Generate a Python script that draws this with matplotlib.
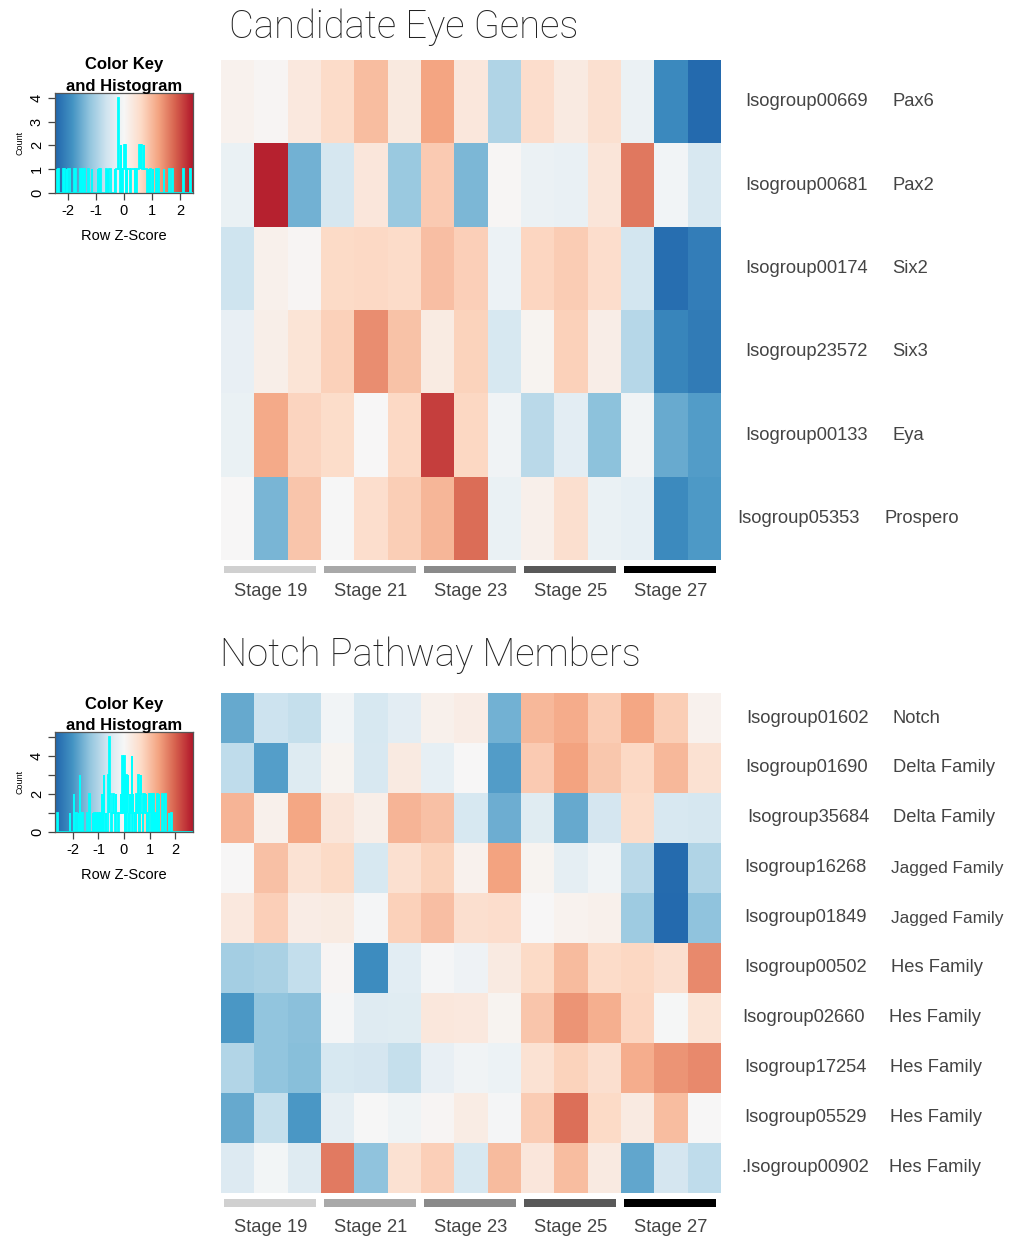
import numpy as np
import matplotlib
matplotlib.use("Agg")
import matplotlib.pyplot as plt
from matplotlib.colors import LinearSegmentedColormap, Normalize

# ---------------- data ----------------
stages = ["Stage 19", "Stage 21", "Stage 23", "Stage 25", "Stage 27"]
stage_colors = ["#d0d0d0", "#a9a9a9", "#8a8a8a", "#595959", "#000000"]

eye_ids = ["Isogroup00669", "Isogroup00681", "Isogroup00174",
           "Isogroup23572", "Isogroup00133", "Isogroup05353"]
eye_genes = ["Pax6", "Pax2", "Six2", "Six3", "Eya", "Prospero"]
eye_z = [
    [0.12, 0.05, 0.31, 0.58, 0.95, 0.29, 1.22, 0.33, -0.93, 0.55, 0.27, 0.48, -0.18, -1.97, -2.38],
    [-0.21, 2.36, -1.46, -0.52, 0.36, -1.14, 0.79, -1.38, 0.02, -0.19, -0.22, 0.37, 1.62, -0.09, -0.48],
    [-0.62, 0.14, 0.04, 0.61, 0.63, 0.59, 0.92, 0.74, -0.16, 0.66, 0.77, 0.54, -0.57, -2.33, -2.11],
    [-0.24, 0.19, 0.41, 0.71, 1.42, 0.89, 0.26, 0.69, -0.51, 0.08, 0.72, 0.21, -0.88, -2.02, -2.16],
    [-0.20, 1.16, 0.68, 0.57, 0.00, 0.62, 2.12, 0.64, -0.11, -0.84, -0.31, -1.26, -0.10, -1.55, -1.71],
    [0.01, -1.41, 0.86, -0.01, 0.53, 0.76, 1.03, 1.71, -0.20, 0.16, 0.51, -0.21, -0.26, -1.94, -1.76],
]

notch_ids = ["Isogroup01602", "Isogroup01690", "Isogroup35684", "Isogroup16268",
             "Isogroup01849", "Isogroup00502", "Isogroup02660", "Isogroup17254",
             "Isogroup05529", ".Isogroup00902"]
notch_genes = ["Notch", "Delta Family", "Delta Family", "Jagged Family",
               "Jagged Family", "Hes Family", "Hes Family", "Hes Family",
               "Hes Family", "Hes Family"]
notch_z = [
    [-1.72, -0.71, -0.79, -0.09, -0.56, -0.34, 0.15, 0.24, -1.61, 1.10, 1.26, 0.86, 1.31, 0.84, 0.14],
    [-0.86, -1.87, -0.44, 0.10, -0.54, 0.31, -0.29, 0.00, -1.88, 0.87, 1.36, 0.92, 0.69, 1.11, 0.51],
    [1.16, 0.16, 1.31, 0.41, 0.20, 1.14, 1.01, -0.56, -1.66, -0.39, -1.71, -0.61, 0.64, -0.54, -0.57],
    [0.02, 1.01, 0.49, 0.66, -0.56, 0.54, 0.76, 0.14, 1.36, 0.09, -0.31, -0.11, -0.91, -2.60, -1.02],
    [0.35, 0.81, 0.24, 0.29, -0.05, 0.79, 1.02, 0.56, 0.61, 0.00, 0.11, 0.16, -1.21, -2.62, -1.36],
    [-1.16, -1.09, -0.81, 0.05, -2.12, -0.36, -0.06, -0.16, 0.30, 0.66, 1.06, 0.64, 0.71, 0.56, 1.61],
    [-1.96, -1.33, -1.41, -0.06, -0.41, -0.39, 0.36, 0.34, 0.10, 0.94, 1.51, 1.21, 0.72, -0.04, 0.46],
    [-1.01, -1.34, -1.42, -0.55, -0.61, -0.79, -0.26, -0.12, -0.18, 0.49, 0.76, 0.55, 1.24, 1.50, 1.62],
    [-1.71, -0.80, -1.96, -0.30, -0.02, -0.13, 0.05, 0.26, -0.05, 0.86, 1.86, 0.66, 0.31, 1.04, 0.00],
    [-0.46, -0.08, -0.41, 1.76, -1.36, 0.51, 0.81, -0.55, 1.06, 0.40, 1.04, 0.30, -1.76, -0.60, -0.86],
]

# ---------------- style ----------------
W, H = 1010, 1238
fig = plt.figure(figsize=(W / 100, H / 100), dpi=100)
plt.rcParams['font.family'] = ['Liberation Sans', 'DejaVu Sans']

rdbu9 = ["#2166ac", "#4393c3", "#92c5de", "#d1e5f0", "#f7f7f7",
         "#fddbc7", "#f4a582", "#d6604d", "#b2182b"]
cmap = LinearSegmentedColormap.from_list("rdbu9r", rdbu9, N=256)
TXT = "#444444"
LAB_FS = 13.2


def ax_px(x0, y0, x1, y1):
    return fig.add_axes([x0 / W, 1 - y1 / H, (x1 - x0) / W, (y1 - y0) / H])


def ftext(x, y, s, **kw):
    fig.text(x / W, 1 - y / H, s, **kw)


def heatmap(box, z, vmax, ids, genes, id_x, gene_x, gene_fs, strip_box, label_y, bar_y0, bar_y1):
    z = np.array(z)
    nr, nc = z.shape
    x0, y0, x1, y1 = box
    ax = ax_px(*box)
    ax.imshow(z, cmap=cmap, norm=Normalize(-vmax, vmax), aspect='auto',
              extent=(0, nc, nr, 0), interpolation='nearest')
    ax.set_xlim(0, nc)
    ax.set_ylim(nr, 0)
    ax.axis('off')
    rh = (y1 - y0) / nr
    for i in range(nr):
        yc = y0 + rh * (i + 0.5)
        ftext(id_x[i], yc, ids[i], fontsize=LAB_FS, color=TXT, va='center', ha='left')
        ftext(gene_x[i], yc, genes[i], fontsize=gene_fs[i], color=TXT, va='center', ha='left')
    # stage strip
    sx = ax_px(*strip_box)
    sx.set_xlim(0, nc)
    sx.set_ylim(strip_box[3] - strip_box[1], 0)
    sx.axis('off')
    for k, (st, c) in enumerate(zip(stages, stage_colors)):
        sx.fill_between([3 * k + 0.1, 3 * k + 2.86], bar_y0, bar_y1, color=c, lw=0)
        sx.text(3 * k + 1.48, label_y, st, ha='center', va='center',
                fontsize=LAB_FS, color=TXT)


def colorkey(box, z, vmax, title_y):
    z = np.array(z)
    ax = ax_px(*box)
    edges = np.linspace(-vmax, vmax, 257)
    counts, _ = np.histogram(z.ravel(), bins=edges)
    ymax = counts.max() * 1.05
    grad = np.linspace(-vmax, vmax, 256)[None, :]
    ax.imshow(grad, cmap=cmap, norm=Normalize(-vmax, vmax), aspect='auto',
              extent=(-vmax, vmax, 0, ymax), origin='lower')
    ax.stairs(counts, edges, color='cyan', lw=1.3)
    ax.set_xlim(-vmax, vmax)
    ax.set_ylim(0, ymax)
    ax.set_xticks([-2, -1, 0, 1, 2])
    ax.set_xticklabels(["-2", "-1", "0", "1", "2"], fontsize=10.5)
    yt = np.arange(0, int(counts.max()) + 1)
    ax.set_yticks(yt)
    step = 1 if counts.max() <= 4 else 2
    ax.set_yticklabels([str(v) if v % step == 0 else "" for v in yt],
                       fontsize=10.5, rotation=90, va='center')
    ax.tick_params(length=5, width=0.9, color="#444", pad=3)
    for s in ax.spines.values():
        s.set_color("#555")
        s.set_linewidth(0.9)
    ax.set_xlabel("Row Z-Score", fontsize=10.5, labelpad=8)
    ax.set_ylabel("Count", fontsize=6.5, labelpad=4)
    cx = (box[0] + box[2]) / 2
    ftext(cx, title_y, "Color Key", fontsize=12, fontweight='bold', ha='center', va='center')
    ftext(cx, title_y + 21, "and Histogram", fontsize=12, fontweight='bold', ha='center', va='center')


TITLE_KW = dict(fontsize=27.5, color="#222", ha='left', va='center',
                family=['Roboto', 'Liberation Sans', 'DejaVu Sans'], fontweight='light')

# ---------------- top panel ----------------
ftext(229, 27, "Candidate Eye Genes", **TITLE_KW)
heatmap((221, 60, 721, 560), eye_z, 2.45, eye_ids, eye_genes,
        [745, 745, 745, 745, 745, 737], [892, 892, 892, 892, 892, 884],
        [LAB_FS] * 6,
        (221, 560, 721, 605), 31, 6, 13)
colorkey((55, 93, 193, 193), eye_z, 2.45, 65)

# ---------------- bottom panel ----------------
ftext(220, 655, "Notch Pathway Members", **TITLE_KW)
heatmap((221, 693, 721, 1193), notch_z, 2.7, notch_ids, notch_genes,
        [746, 745, 747, 744, 744, 744, 742, 744, 744, 741],
        [893, 893, 893, 891, 891, 891, 889, 890, 890, 889],
        [LAB_FS, LAB_FS, LAB_FS, 12.4, 12.4, LAB_FS, LAB_FS, LAB_FS, LAB_FS, LAB_FS],
        (221, 1193, 721, 1238), 34, 6, 14)
colorkey((55, 732, 193, 832), notch_z, 2.7, 704)

fig.savefig("out.png", dpi=100)
